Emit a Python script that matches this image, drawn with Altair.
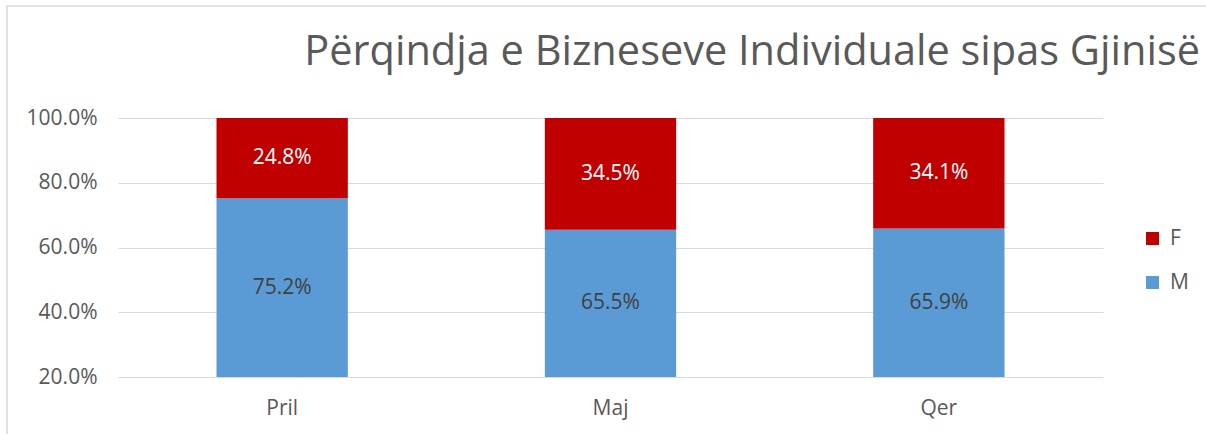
import altair as alt
import pandas as pd

months = ["Pril", "Maj", "Qer"]
m_vals = [75.2, 65.5, 65.9]
f_vals = [24.8, 34.5, 34.1]
y_ticks = [0.2, 0.4, 0.6, 0.8, 1.0]
title_text = "Përqindja e Bizneseve Individuale sipas Gjinisë"

rows = []
for mo, m, f in zip(months, m_vals, f_vals):
    lo, hi = 0.0, m / 100
    rows.append(dict(month=mo, gender="M", start=lo, end=hi, value=m,
                     mid=(max(lo, 0.2) + hi) / 2, label=f"{m:.1f}%"))
    lo, hi = m / 100, (m + f) / 100
    rows.append(dict(month=mo, gender="F", start=lo, end=hi, value=f,
                     mid=(max(lo, 0.2) + hi) / 2, label=f"{f:.1f}%"))
df = pd.DataFrame(rows)

FONT = "Open Sans"
GRAY = "#595959"
FS = 21

xenc = alt.X("month:N", sort=months, title=None,
             scale=alt.Scale(paddingInner=0.6, paddingOuter=0.3),
             axis=alt.Axis(labelAngle=0, ticks=False, domain=False, labelPadding=20,
                           labelFontSize=FS, labelColor=GRAY, labelFont=FONT))
yscale = alt.Scale(domain=[0.2, 1.0], nice=False, zero=False)

bars = alt.Chart(df).mark_bar(clip=True).encode(
    x=xenc,
    y=alt.Y("start:Q", scale=yscale, title=None,
            axis=alt.Axis(values=y_ticks, format=".1%", ticks=False, domain=False,
                          labelPadding=21, labelFontSize=FS, labelColor=GRAY,
                          labelFont=FONT, gridColor="#D9D9D9", gridWidth=1)),
    y2="end:Q",
    color=alt.Color("gender:N", sort=["F", "M"],
                    scale=alt.Scale(domain=["F", "M"], range=["#C00000", "#5B9BD5"]),
                    legend=alt.Legend(title=None, orient="none", legendX=1024, legendY=110,
                                      symbolType="square", symbolSize=169,
                                      symbolStrokeWidth=0, rowPadding=22,
                                      labelFontSize=FS, labelColor=GRAY, labelFont=FONT,
                                      labelOffset=7)),
)

labels = alt.Chart(df).mark_text(fontSize=FS, font=FONT).encode(
    x=alt.X("month:N", sort=months),
    y=alt.Y("mid:Q", scale=yscale),
    text="label:N",
    color=alt.Color("gender:N", scale=alt.Scale(domain=["F", "M"], range=["#FFFFFF", "#404040"]),
                    legend=None),
)

border = alt.Chart(pd.DataFrame({"a": [0]})).mark_rect(
    fill=None, stroke="#D9D9D9", strokeWidth=1.5, clip=False
).encode(x=alt.value(-111), x2=alt.value(1300), y=alt.value(-112), y2=alt.value(400))

title = alt.Chart(pd.DataFrame({"t": [title_text]})).mark_text(
    align="right", baseline="alphabetic", fontSize=41.5, font=FONT, color=GRAY
).encode(x=alt.value(1082), y=alt.value(-53), text="t:N")

chart = alt.layer(border, bars, labels, title).resolve_scale(color="independent").properties(
    width=985, height=259,
    autosize=alt.AutoSizeParams(type="none"),
    padding={"left": 118, "top": 118, "right": 103, "bottom": 57},
).configure_view(stroke=None)

chart.save("out.html", embed_options={"renderer": "svg", "actions": False})
